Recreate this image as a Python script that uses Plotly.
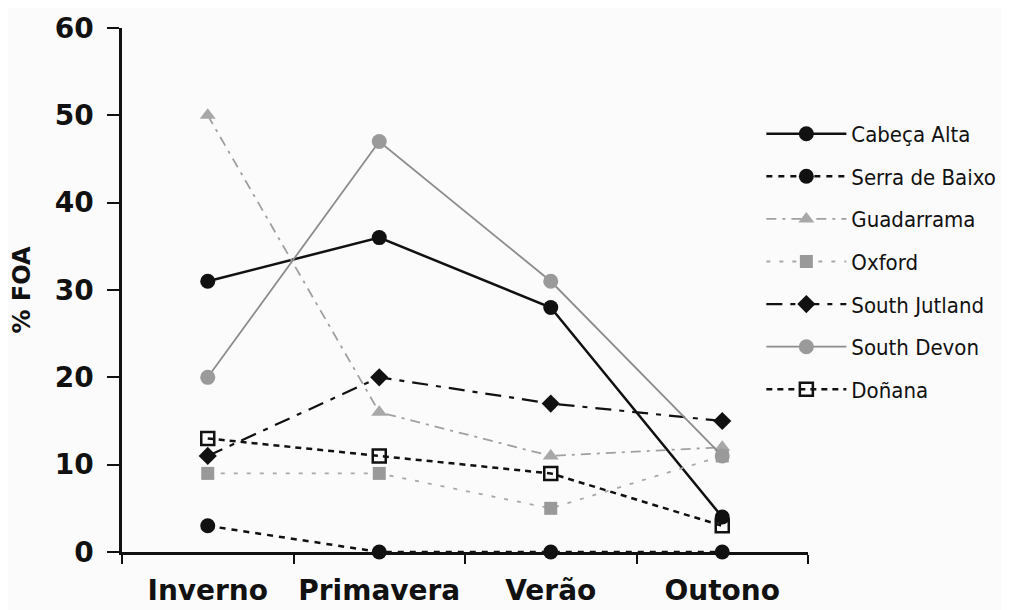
import plotly.graph_objects as go

seasons = ["Inverno", "Primavera", "Verão", "Outono"]

cabeca_alta = [31, 36, 28, 4]
serra_de_baixo = [3, 0, 0, 0]
guadarrama = [50, 16, 11, 12]
oxford = [9, 9, 5, 11]
south_jutland = [11, 20, 17, 15]
south_devon = [20, 47, 31, 11]
donana = [13, 11, 9, 3]

y_ticks = [0, 10, 20, 30, 40, 50, 60]

series = [
    ("Cabeça Alta", cabeca_alta, dict(color="#111111", width=2.5, dash="solid"),
     dict(symbol="circle", size=15, color="#111111")),
    ("Serra de Baixo", serra_de_baixo, dict(color="#111111", width=2.5, dash="6px,6px"),
     dict(symbol="circle", size=15, color="#111111")),
    ("Guadarrama", guadarrama, dict(color="#a0a0a0", width=1.8, dash="10px,6px,3px,6px"),
     dict(symbol="triangle-up", size=14, color="#a8a8a8")),
    ("Oxford", oxford, dict(color="#a8a8a8", width=1.8, dash="4px,9px"),
     dict(symbol="square", size=13, color="#999999")),
    ("South Jutland", south_jutland, dict(color="#111111", width=2.2, dash="16px,8px,5px,8px"),
     dict(symbol="diamond", size=14, color="#111111")),
    ("South Devon", south_devon, dict(color="#8c8c8c", width=1.8, dash="solid"),
     dict(symbol="circle", size=15, color="#9a9a9a")),
    ("Doñana", donana, dict(color="#111111", width=2.5, dash="6px,5px"),
     dict(symbol="square-open", size=13, color="#111111", line=dict(width=2.5, color="#111111"))),
]

fig = go.Figure()
for i, (name, vals, line, marker) in enumerate(series):
    fig.add_trace(go.Scatter(
        x=seasons, y=vals, name=name, mode="lines+markers",
        line=line, marker=marker, cliponaxis=False, legendgroup=f"g{i}",
    ))

legend_font = "DejaVu Sans Condensed, Liberation Sans Narrow, DejaVu Sans, sans-serif"

fig.update_layout(
    width=1009, height=610,
    margin=dict(l=114, r=209, t=20, b=66, autoexpand=False),
    plot_bgcolor="#fbfbfb",
    paper_bgcolor="#fbfbfb",
    font=dict(family="DejaVu Sans", color="#111111"),
    showlegend=True,
    legend=dict(
        x=0.932, y=0.838, xanchor="left", yanchor="top",
        font=dict(family=legend_font, size=22, color="#111111"),
        bgcolor="rgba(0,0,0,0)", tracegroupgap=11, itemwidth=80,
    ),
    xaxis=dict(
        type="category", range=[-0.5, 3.5], tickson="boundaries", automargin=False,
        showline=True, linecolor="#111111", linewidth=2.5,
        ticks="outside", ticklen=9, tickwidth=2, tickcolor="#111111",
        showgrid=False, zeroline=False, ticklabelstandoff=12, tickangle=0,
        tickfont=dict(family="DejaVu Sans", size=28, color="#111111", weight="bold"),
    ),
    yaxis=dict(
        range=[0, 60], tickvals=y_ticks, automargin=False,
        showline=True, linecolor="#111111", linewidth=2.5,
        ticks="outside", ticklen=12, tickwidth=2, tickcolor="#111111",
        showgrid=False, zeroline=False, ticklabelstandoff=8,
        tickfont=dict(family="DejaVu Sans", size=28, color="#111111", weight="bold"),
        title=dict(text="% FOA", standoff=18,
                   font=dict(family="DejaVu Sans", size=24, color="#111111", weight="bold")),
    ),
)

fig.write_html("out.html")
